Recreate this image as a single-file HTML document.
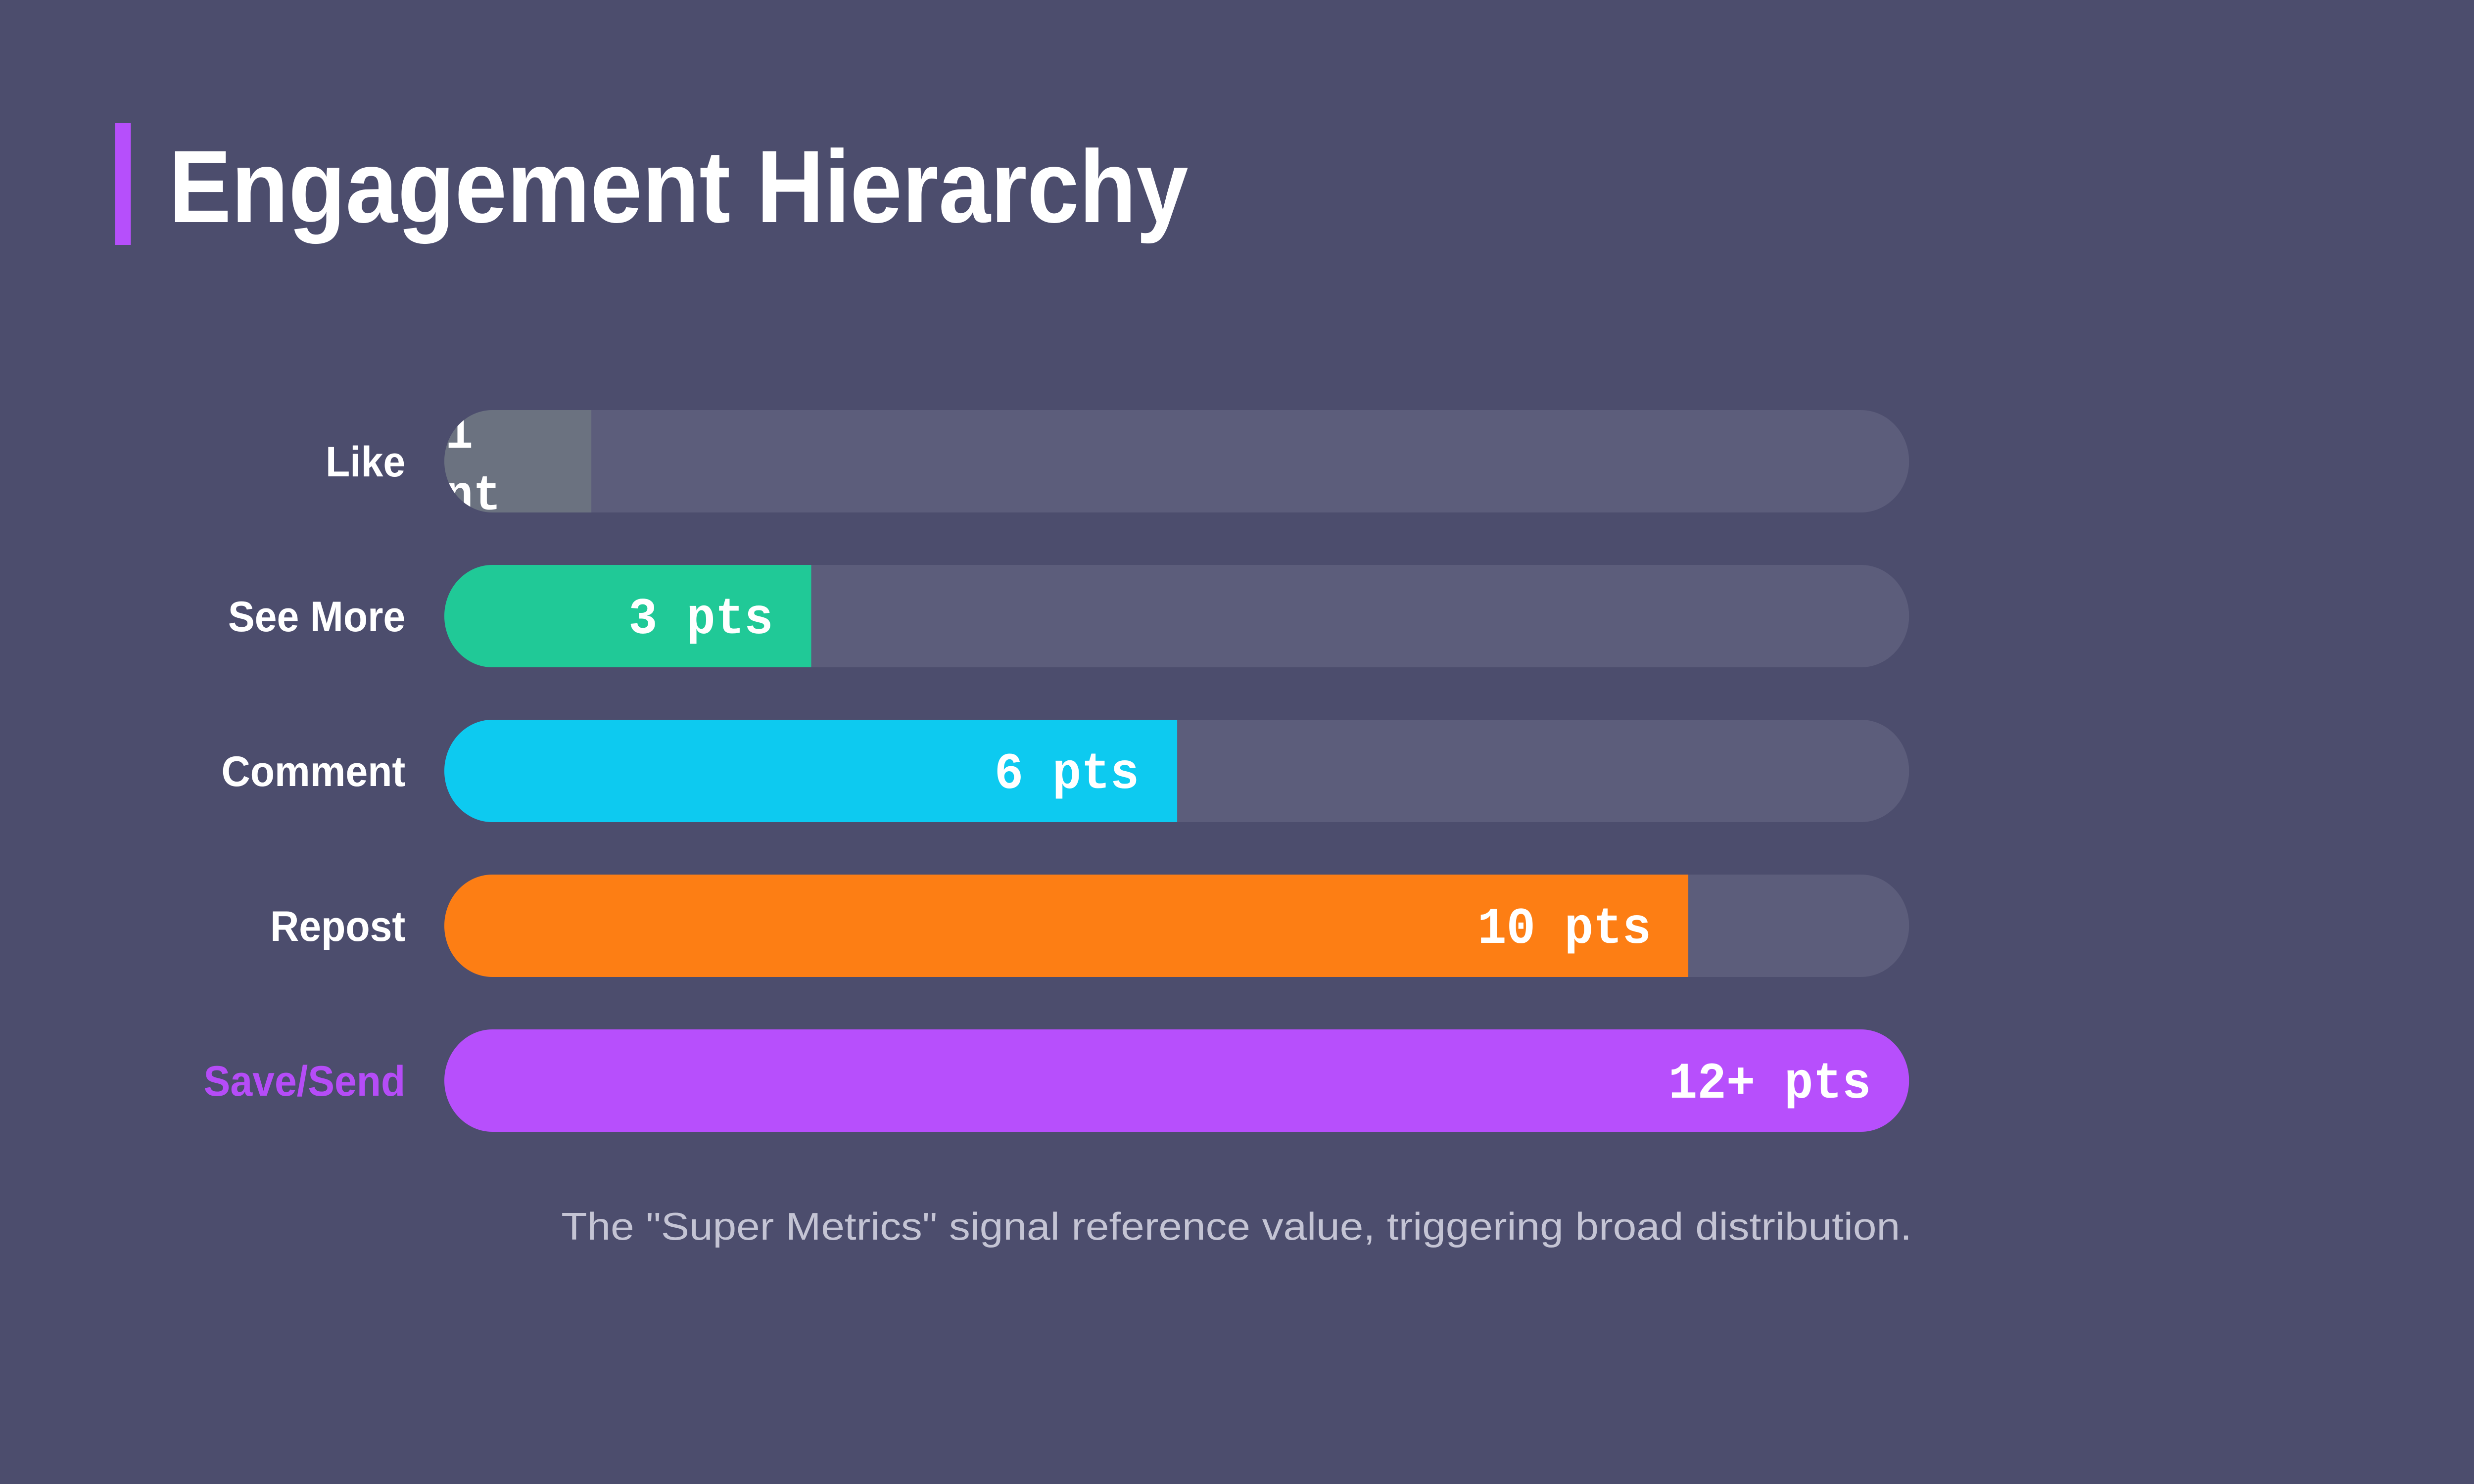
<!DOCTYPE html>
<html><head><meta charset="utf-8"><style>
html,body{margin:0;padding:0;background:#4c4d6d;width:100%;height:100%;overflow:hidden;}
svg{display:block;width:100vw;height:100vh}
</style></head><body>
<svg viewBox="0 0 5334 3000" preserveAspectRatio="none" xmlns="http://www.w3.org/2000/svg">
<rect width="5334" height="3000" fill="#4c4d6d"/>
<rect x="248" y="249" width="34" height="246" fill="#b64ffb"/>
<text x="364" y="449" font-family="Liberation Sans, sans-serif" font-weight="bold" font-size="208" fill="#ffffff" textLength="2198" lengthAdjust="spacingAndGlyphs">Engagement Hierarchy</text>
<defs>
<clipPath id="c1"><rect x="958" y="829" width="3158" height="207" rx="103.5"/></clipPath>
<clipPath id="c2"><rect x="958" y="1142" width="3158" height="207" rx="103.5"/></clipPath>
<clipPath id="c3"><rect x="958" y="1455" width="3158" height="207" rx="103.5"/></clipPath>
<clipPath id="c4"><rect x="958" y="1768" width="3158" height="207" rx="103.5"/></clipPath>
<clipPath id="c5"><rect x="958" y="2081" width="3158" height="207" rx="103.5"/></clipPath>
</defs>
<g font-family="Liberation Sans, sans-serif" font-weight="bold" font-size="86" fill="#ffffff" text-anchor="end">
<text x="874" y="963">Like</text>
<text x="874" y="1276">See More</text>
<text x="874" y="1589">Comment</text>
<text x="874" y="1902">Repost</text>
<text x="874" y="2215" fill="#b54cf7">Save/Send</text>
</g>
<g clip-path="url(#c1)">
<rect x="958" y="829" width="3158" height="207" fill="#5c5d7b"/>
<rect x="958" y="829" width="317" height="207" fill="#6b7280"/>
<g font-family="Liberation Mono, monospace" font-weight="bold" font-size="100" fill="#fff">
<text x="960" y="905">1</text>
<text x="960" y="1030">nt</text>
</g>
</g>
<g clip-path="url(#c2)">
<rect x="958" y="1142" width="3158" height="207" fill="#5c5d7b"/>
<rect x="958" y="1142" width="791" height="207" fill="#20c997"/>
</g>
<g clip-path="url(#c3)">
<rect x="958" y="1455" width="3158" height="207" fill="#5c5d7b"/>
<rect x="958" y="1455" width="1580" height="207" fill="#0dcaf0"/>
</g>
<g clip-path="url(#c4)">
<rect x="958" y="1768" width="3158" height="207" fill="#5c5d7b"/>
<rect x="958" y="1768" width="2682" height="207" fill="#fd7e14"/>
</g>
<g clip-path="url(#c5)">
<rect x="958" y="2081" width="3158" height="207" fill="#b74ffc"/>
</g>
<g font-family="Liberation Mono, monospace" font-weight="bold" font-size="104" fill="#ffffff" text-anchor="end">
<text x="1667" y="1280">3 pts</text>
<text x="2456" y="1593">6 pts</text>
<text x="3560" y="1906">10 pts</text>
<text x="4034" y="2219">12+ pts</text>
</g>
<text x="1210" y="2506" font-family="Liberation Sans, sans-serif" font-size="78" fill="#c4c4d4" textLength="2912" lengthAdjust="spacingAndGlyphs">The "Super Metrics" signal reference value, triggering broad distribution.</text>
</svg>
</body></html>
